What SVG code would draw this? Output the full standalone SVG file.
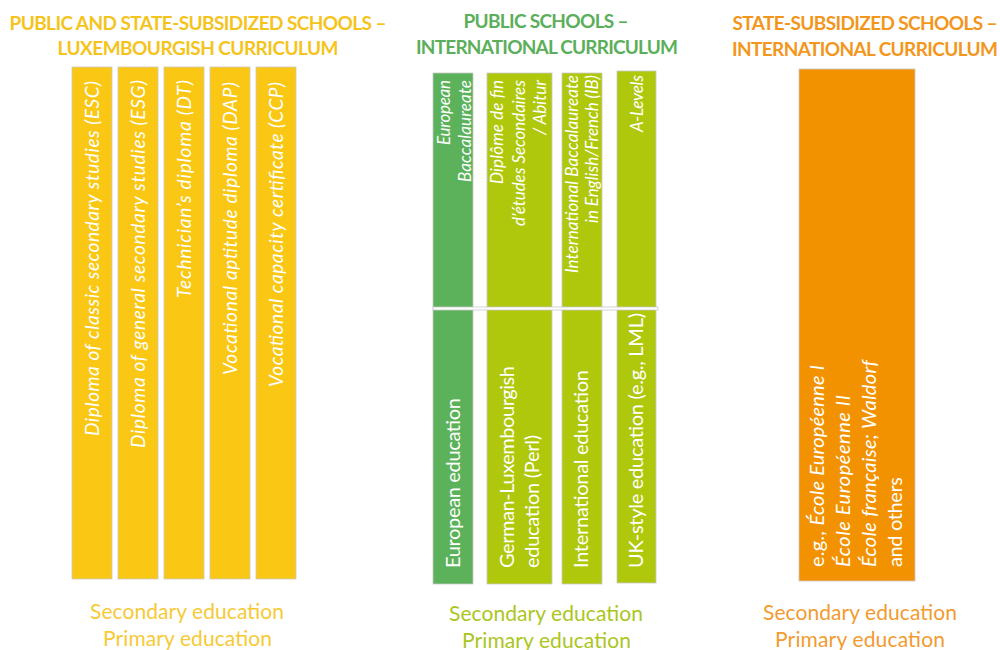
<svg xmlns="http://www.w3.org/2000/svg" width="1000" height="650" viewBox="0 0 1000 650">
<style>
  .hdr { font-family: Lato, "Open Sans", "Liberation Sans", sans-serif; font-weight: bold; font-size: 19px; text-anchor: middle; }
  .lbl { font-family: Lato, "Open Sans", "Liberation Sans", sans-serif; font-size: 21px; text-anchor: middle; }
  .bar { stroke: #c8c8c8; stroke-width: 0.8; }
  .yel { fill: #FAC714; }
  .grn { fill: #5CB25A; }
  .lim { fill: #AFC80C; }
  .org { fill: #F39200; }
  .vt { font-family: Lato, "Open Sans", "Liberation Sans", sans-serif; fill: #ffffff; }
  .it19 { font-size: 19px; font-style: italic; text-anchor: end; }
  .it17 { font-size: 17px; font-style: italic; text-anchor: end; }
  .rg20 { font-size: 20px; text-anchor: start; }
  .c-y { fill: #F5C41C; }
  .c-yl { fill: #F7C935; }
  .c-g { fill: #5BAF5B; }
  .c-gl { fill: #ABC61C; }
  .c-o { fill: #F3961C; }
  .c-ol { fill: #F29B30; }
</style>

<g id="header-luxembourgish">
  <text class="hdr c-y" x="198" y="30" textLength="377">PUBLIC AND STATE-SUBSIDIZED SCHOOLS –</text>
  <text class="hdr c-y" x="198" y="55" textLength="281">LUXEMBOURGISH CURRICULUM</text>
</g>
<g id="header-public-international">
  <text class="hdr c-g" x="546" y="28" textLength="165">PUBLIC SCHOOLS –</text>
  <text class="hdr c-g" x="547" y="54" textLength="262">INTERNATIONAL CURRICULUM</text>
</g>
<g id="header-subsidized-international">
  <text class="hdr c-o" x="865" y="30" textLength="265">STATE-SUBSIDIZED SCHOOLS –</text>
  <text class="hdr c-o" x="865" y="56" textLength="266">INTERNATIONAL CURRICULUM</text>
</g>

<g id="esc">
  <rect class="bar yel" x="72" y="67" width="40" height="512"/>
  <text class="vt it19" transform="translate(99,81) rotate(-90)" textLength="355">Diploma of classic secondary studies (ESC)</text>
</g>
<g id="esg">
  <rect class="bar yel" x="118" y="67" width="40" height="512"/>
  <text class="vt it19" transform="translate(145,80) rotate(-90)" textLength="368">Diploma of general secondary studies (ESG)</text>
</g>
<g id="dt">
  <rect class="bar yel" x="164" y="67" width="40" height="512"/>
  <text class="vt it19" transform="translate(191,80) rotate(-90)" textLength="218">Technician’s diploma (DT)</text>
</g>
<g id="dap">
  <rect class="bar yel" x="210" y="67" width="40" height="512"/>
  <text class="vt it19" transform="translate(237,82) rotate(-90)" textLength="293">Vocational aptitude diploma (DAP)</text>
</g>
<g id="ccp">
  <rect class="bar yel" x="256" y="67" width="40" height="512"/>
  <text class="vt it19" transform="translate(283,82) rotate(-90)" textLength="305">Vocational capacity certificate (CCP)</text>
</g>

<g id="european">
  <rect class="bar grn" x="433" y="73" width="40" height="511"/>
  <text class="vt it17" transform="translate(450,80) rotate(-90)" textLength="65">European</text>
  <text class="vt it17" transform="translate(471,80) rotate(-90)" textLength="102">Baccalaureate</text>
  <text class="vt rg20" transform="translate(460,568) rotate(-90)" textLength="170">European education</text>
</g>
<g id="german-luxembourgish">
  <rect class="bar lim" x="487" y="73" width="65" height="511"/>
  <text class="vt it17" transform="translate(503,80) rotate(-90)" textLength="104">Diplôme de fin</text>
  <text class="vt it17" transform="translate(525,80) rotate(-90)" textLength="146">d’études Secondaires</text>
  <text class="vt it17" transform="translate(546,80) rotate(-90)" textLength="55">/ Abitur</text>
  <text class="vt rg20" transform="translate(514,568) rotate(-90)" textLength="202">German-Luxembourgish</text>
  <text class="vt rg20" transform="translate(539,568) rotate(-90)" textLength="133">education (Perl)</text>
</g>
<g id="international">
  <rect class="bar lim" x="562" y="73" width="40" height="511"/>
  <text class="vt it17" transform="translate(578,75) rotate(-90)" textLength="198">International Baccalaureate</text>
  <text class="vt it17" transform="translate(598,75) rotate(-90)" textLength="148">in English/French (IB)</text>
  <text class="vt rg20" transform="translate(588,568) rotate(-90)" textLength="198">International education</text>
</g>
<g id="uk-style">
  <rect class="bar lim" x="617" y="71" width="39" height="512"/>
  <text class="vt it17" transform="translate(643,75) rotate(-90)" textLength="57">A-Levels</text>
  <text class="vt rg20" transform="translate(643,568) rotate(-90)" textLength="255">UK-style education (e.g., LML)</text>
</g>
<g id="divider">
  <rect x="433" y="307" width="225" height="3" fill="#ffffff" stroke="#c8c8c8" stroke-width="0.8"/>
</g>

<g id="subsidized-schools">
  <rect class="bar org" x="799" y="69" width="116" height="512"/>
  <text class="vt rg20" transform="translate(824,567) rotate(-90)" textLength="202">e.g., <tspan font-style="italic">École Européenne I</tspan></text>
  <text class="vt rg20" transform="translate(850,567) rotate(-90)" font-style="italic" textLength="172">École Européenne II</text>
  <text class="vt rg20" transform="translate(876,567) rotate(-90)" font-style="italic" textLength="207">École française; Waldorf</text>
  <text class="vt rg20" transform="translate(902,567) rotate(-90)" textLength="90">and others</text>
</g>

<g id="levels-luxembourgish">
  <text class="lbl c-yl" x="187" y="619" textLength="194">Secondary education</text>
  <text class="lbl c-yl" x="187.5" y="646" textLength="169">Primary education</text>
</g>
<g id="levels-public-international">
  <text class="lbl c-gl" x="546" y="621" textLength="194">Secondary education</text>
  <text class="lbl c-gl" x="546.5" y="648" textLength="169">Primary education</text>
</g>
<g id="levels-subsidized-international">
  <text class="lbl c-ol" x="860" y="620" textLength="194">Secondary education</text>
  <text class="lbl c-ol" x="860" y="647" textLength="170">Primary education</text>
</g>

<g id="connectors"/>
</svg>
